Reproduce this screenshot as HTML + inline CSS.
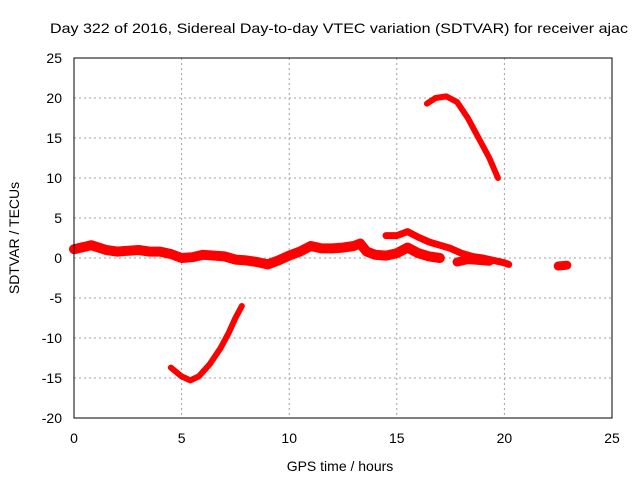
<!DOCTYPE html>
<html><head><meta charset="utf-8"><style>
body{margin:0;background:#fff;}
svg{display:block;font-family:"Liberation Sans",sans-serif;}
</style></head><body>
<svg id="chart" width="640" height="480" viewBox="0 0 640 480">
<rect width="640" height="480" fill="#fff"/>
<text x="50" y="33" font-size="14" textLength="578" lengthAdjust="spacingAndGlyphs">Day 322 of 2016, Sidereal Day-to-day VTEC variation (SDTVAR) for receiver ajac</text>
<g id="grid"></g>
<g id="series"></g>
<rect x="74" y="58" width="538" height="360" fill="none" stroke="#000" stroke-width="1"/>
<g id="ticks"></g>
<text x="340" y="471" font-size="14" text-anchor="middle">GPS time / hours</text>
<text transform="translate(19,238) rotate(-90)" font-size="14" text-anchor="middle">SDTVAR / TECUs</text>
</svg>
<script>
const xTicks=[0,5,10,15,20,25];
const yTicks=[25,20,15,10,5,0,-5,-10,-15,-20];
const mainX=[0,0.5,0.8,1.5,2,3,3.5,4,4.5,5,5.5,6,7,7.5,8,8.5,9,9.5,10,10.5,11,11.5,12,12.5,13,13.3,13.6,14,14.5,15,15.5,16,16.5,17];
const mainY=[1.1,1.4,1.6,1.0,0.8,1.0,0.8,0.8,0.5,0.0,0.1,0.4,0.2,-0.2,-0.3,-0.5,-0.8,-0.3,0.3,0.8,1.5,1.2,1.2,1.3,1.5,1.8,0.8,0.4,0.3,0.6,1.3,0.6,0.2,0.0];
const upperX=[14.5,15,15.5,16,16.5,17,17.5,18,18.5,19,19.5,20,20.2];
const upperY=[2.8,2.8,3.3,2.6,2.0,1.6,1.2,0.6,0.2,0.0,-0.3,-0.6,-0.8];
const blobX=[17.8,18.3,18.8,19.3];
const blobY=[-0.5,-0.2,-0.3,-0.4];
const lateX=[22.5,22.9];
const lateY=[-1.0,-0.9];
const lowArcX=[4.5,5,5.4,5.8,6.3,6.8,7.2,7.5,7.8];
const lowArcY=[-13.7,-14.8,-15.3,-14.8,-13.3,-11.3,-9.3,-7.5,-6];
const highArcX=[16.4,16.8,17.3,17.8,18.3,18.8,19.3,19.7];
const highArcY=[19.3,20.0,20.2,19.5,17.5,15,12.5,10];
const NS="http://www.w3.org/2000/svg";
const sx=v=>74+v*538/25, sy=v=>258-v*8;
const grid=document.getElementById('grid'), ticks=document.getElementById('ticks'), ser=document.getElementById('series');
function mk(tag,attrs,parent){const e=document.createElementNS(NS,tag);for(const k in attrs)e.setAttribute(k,attrs[k]);parent.appendChild(e);return e;}
xTicks.forEach(t=>{
 const x=sx(t);
 if(t>0&&t<25){const g=mk('line',{x1:x,x2:x,y1:58,y2:418,stroke:'#a0a0a0','stroke-dasharray':'2,3'},grid);
 
 }
 const l=mk('text',{x:x,y:443,'font-size':14,'text-anchor':'middle'},ticks);l.textContent=t;
 
 
});
yTicks.forEach(t=>{
 const y=sy(t);
 if(t<25&&t>-20){const g=mk('line',{x1:74,x2:612,y1:y,y2:y,stroke:'#a0a0a0','stroke-dasharray':'2,3'},grid);
 
 }
 const l=mk('text',{x:62,y:y+5,'font-size':14,'text-anchor':'end'},ticks);l.textContent=t;
 
 
});
function series(xs,ys,w,name){
 const p=mk('polyline',{points:xs.map((x,i)=>sx(x)+','+sy(ys[i])).join(' '),fill:'none',stroke:'#ff0000','stroke-width':w,'stroke-linejoin':'round','stroke-linecap':'round'},ser);
 
 
}
series(mainX,mainY,10,'main-series');
series(upperX,upperY,7,'upper-branch-series');
series(blobX,blobY,9,'blob-series');
series(lateX,lateY,9,'late-series');
series(lowArcX,lowArcY,6,'negative-arc-series');
series(highArcX,highArcY,6,'positive-arc-series');
</script>
</body></html>
